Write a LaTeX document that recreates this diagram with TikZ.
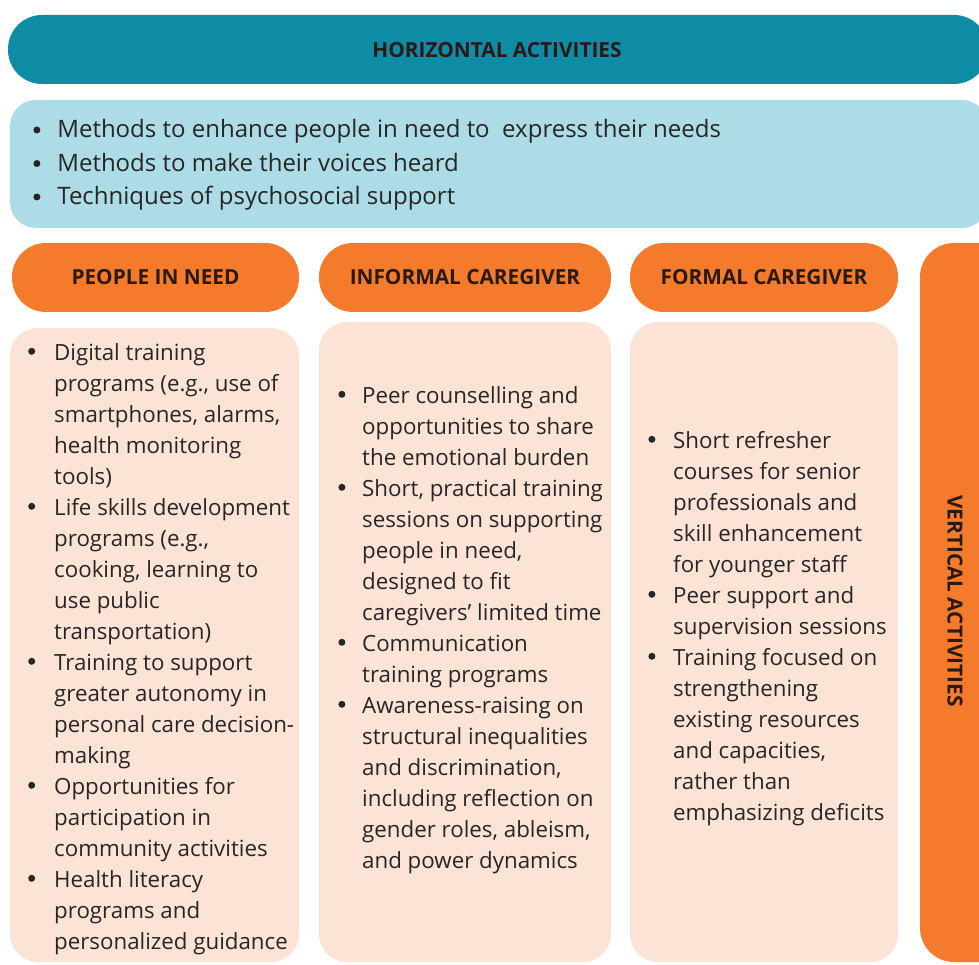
\documentclass[tikz,border=0pt]{standalone}
\usepackage{fontspec}
\setmainfont{Open Sans}
\definecolor{tealdark}{HTML}{0E8CA6}
\definecolor{lightblue}{HTML}{ADDCE6}
\definecolor{orangehd}{HTML}{F47B2C}
\definecolor{peach}{HTML}{FBE3D5}
\definecolor{txtc}{HTML}{262626}
\definecolor{hdtxt}{HTML}{2A1A14}
\newcommand{\bdot}[1]{\tikz[baseline=0pt]\fill[txtc] (0pt,#1) circle (3.5pt);}
\newcommand{\bitem}[3]{\par\hangindent=#1\hangafter=1\noindent\makebox[#1][l]{\bdot{#2}}#3\par}
\newcommand{\colbox}[1]{\vtop{\hsize=800pt\parindent=0pt\parskip=0pt #1}}
\tikzset{
  pill/.style={inner sep=0pt, rounded corners=34pt, minimum height=69pt},
  hdlabel/.style={font=\bfseries\fontsize{20.8}{24}\selectfont, text=hdtxt},
  bodybox/.style={fill=peach, inner sep=0pt, rounded corners=28pt},
  coltext/.style={anchor=base west, inner sep=0pt, text=txtc, font=\fontsize{22.3}{31}\selectfont},
}
\begin{document}
\begin{tikzpicture}[x=1pt,y=-1pt]
\useasboundingbox (0,0) rectangle (979,965);
\clip (0,0) rectangle (979,965);
\fill[white] (0,0) rectangle (979,965);
% horizontal header
\node[pill, fill=tealdark, minimum width=980pt] (hz) at (498,49.5) {};
\node[hdlabel] (hztext) at (497,50) {HORIZONTAL ACTIVITIES};
% light blue box
\node[fill=lightblue, inner sep=0pt, rounded corners=26pt, minimum width=978pt, minimum height=128pt] (hbox) at (499,164) {};
\node[coltext, font=\fontsize{24}{33.5}\selectfont] (htext) at (33.2,138) {\colbox{%
\bitem{24pt}{8pt}{Methods to enhance people in need to~~express their needs}%
\bitem{24pt}{8pt}{Methods to make their voices heard}%
\bitem{24pt}{8pt}{Techniques of psychosocial support}}};
% column headers
\node[pill, fill=orangehd, minimum width=287pt, hdlabel] (h1) at (155.5,277.5) {PEOPLE IN NEED};
\node[pill, fill=orangehd, minimum width=292pt, hdlabel] (h2) at (465,277.5) {INFORMAL CAREGIVER};
\node[pill, fill=orangehd, minimum width=268pt, hdlabel] (h3) at (764,277.5) {FORMAL CAREGIVER};
% vertical bar
\node[fill=orangehd, inner sep=0pt, rounded corners=34pt, minimum width=100pt, minimum height=719pt] (vbar) at (970,602.5) {};
\node[hdlabel, rotate=-90] (vtext) at (955,601) {VERTICAL ACTIVITIES};
% body boxes
\node[bodybox, minimum width=289pt, minimum height=634pt] (b1) at (154.5,645) {};
\node[bodybox, minimum width=292pt, minimum height=640pt] (b2) at (465,642) {};
\node[bodybox, minimum width=268pt, minimum height=640pt] (b3) at (764,642) {};
% column texts
\node[coltext] (t1) at (28,360) {\colbox{%
\bitem{26pt}{8.7pt}{Digital training\\programs (e.g., use of\\smartphones, alarms,\\health monitoring\\tools)}%
\bitem{26pt}{8.7pt}{Life skills development\\programs (e.g.,\\cooking, learning to\\use public\\transportation)}%
\bitem{26pt}{8.7pt}{Training to support\\greater autonomy in\\personal care decision-\\making}%
\bitem{26pt}{8.7pt}{Opportunities for\\participation in\\community activities}%
\bitem{26pt}{8.7pt}{Health literacy\\programs and\\personalized guidance}}};
\node[coltext] (t2) at (338.2,403) {\colbox{%
\bitem{23.8pt}{8.7pt}{Peer counselling and\\opportunities to share\\the emotional burden}%
\bitem{23.8pt}{8.7pt}{Short, practical training\\sessions on supporting\\people in need,\\designed to fit\\caregivers’ limited time}%
\bitem{23.8pt}{8.7pt}{Communication\\training programs}%
\bitem{23.8pt}{8.7pt}{Awareness-raising on\\structural inequalities\\and discrimination,\\including reflection on\\gender roles, ableism,\\and power dynamics}}};
\node[coltext] (t3) at (648.2,448) {\colbox{%
\bitem{24.8pt}{8.7pt}{Short refresher\\courses for senior\\professionals and\\skill enhancement\\for younger staff}%
\bitem{24.8pt}{8.7pt}{Peer support and\\supervision sessions}%
\bitem{24.8pt}{8.7pt}{Training focused on\\strengthening\\existing resources\\and capacities,\\rather than\\emphasizing deficits}}};
\end{tikzpicture}
\end{document}
